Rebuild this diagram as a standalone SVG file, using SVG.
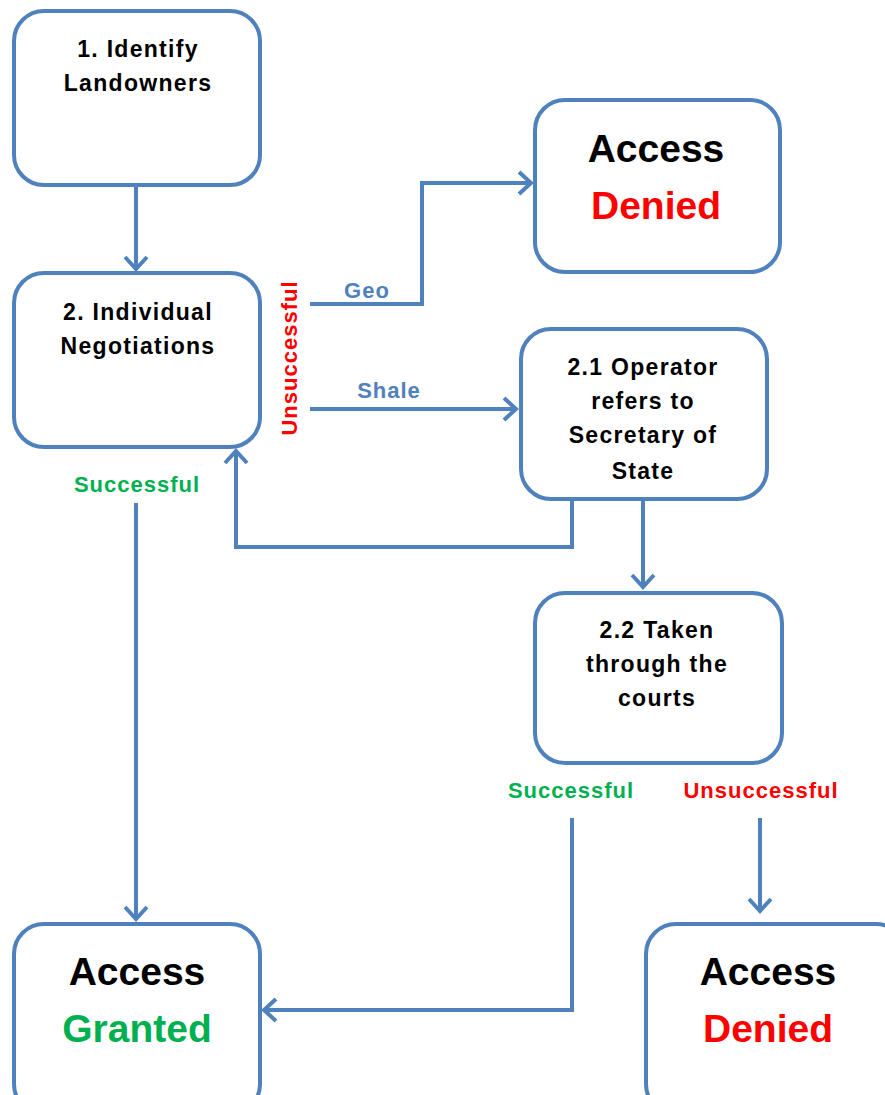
<svg xmlns="http://www.w3.org/2000/svg" width="885" height="1095" viewBox="0 0 885 1095">
<style>
.box{fill:#fff;stroke:#4F81BD;stroke-width:4}
.t{font-family:"Liberation Sans",Arial,sans-serif;font-weight:bold;font-size:23px;letter-spacing:1.3px;fill:#000;text-anchor:middle}
.big{font-family:"Liberation Sans",Arial,sans-serif;font-weight:bold;font-size:39px;text-anchor:middle}
.lbl{font-family:"Liberation Sans",Arial,sans-serif;font-weight:bold;font-size:22px;letter-spacing:1px;text-anchor:middle}
.c{fill:none;stroke:#4F81BD;stroke-width:4}
</style>
<defs>
<marker id="ah" markerUnits="userSpaceOnUse" markerWidth="30" markerHeight="30" viewBox="-15 -15 30 30" refX="0" refY="0" orient="auto">
<path d="M -12 -11 L 0 0 L -12 11" fill="none" stroke="#4F81BD" stroke-width="4"/>
</marker>
</defs>
<g id="connectors">
<path class="c" d="M136 185 V269" marker-end="url(#ah)"/>
<path class="c" d="M310 304 H422 V183 H531" marker-end="url(#ah)"/>
<path class="c" d="M310 409 H516" marker-end="url(#ah)"/>
<path class="c" d="M572 497 V547 H236 V451" marker-end="url(#ah)"/>
<path class="c" d="M643 500 V587" marker-end="url(#ah)"/>
<path class="c" d="M136 503 V919" marker-end="url(#ah)"/>
<path class="c" d="M572 818 V1010 H264" marker-end="url(#ah)"/>
<path class="c" d="M760 818 V911" marker-end="url(#ah)"/>
</g>
<g id="n1"><rect class="box" x="14" y="11" width="246" height="174" rx="30"/>
<text class="t" x="138" y="57">1. Identify</text><text class="t" x="138" y="91">Landowners</text></g>
<g id="n2"><rect class="box" x="14" y="273" width="246" height="174" rx="30"/>
<text class="t" x="138" y="320">2. Individual</text><text class="t" x="138" y="354">Negotiations</text></g>
<g id="denied1"><rect class="box" x="535" y="100" width="245" height="172" rx="30"/>
<text class="big" x="656" y="162">Access</text><text class="big" x="656" y="219" fill="#FF0000">Denied</text></g>
<g id="n21"><rect class="box" x="521" y="329" width="246" height="170" rx="30"/>
<text class="t" x="643" y="375">2.1 Operator</text><text class="t" x="643" y="409">refers to</text><text class="t" x="643" y="443">Secretary of</text><text class="t" x="643" y="479">State</text></g>
<g id="n22"><rect class="box" x="535" y="593" width="247" height="170" rx="30"/>
<text class="t" x="657" y="638">2.2 Taken</text><text class="t" x="657" y="672">through the</text><text class="t" x="657" y="706">courts</text></g>
<g id="granted"><rect class="box" x="14" y="924" width="246" height="190" rx="30"/>
<text class="big" x="137" y="985">Access</text><text class="big" x="137" y="1042" fill="#00B050">Granted</text></g>
<g id="denied2"><rect class="box" x="646" y="924" width="260" height="190" rx="30"/>
<text class="big" x="768" y="985">Access</text><text class="big" x="768" y="1042" fill="#FF0000">Denied</text></g>
<g id="labels">
<text class="lbl" fill="#FF0000" transform="translate(297 358) rotate(-90)">Unsuccessful</text>
<text class="lbl" fill="#4F81BD" x="367" y="298">Geo</text>
<text class="lbl" fill="#4F81BD" x="389" y="398">Shale</text>
<text class="lbl" fill="#00B050" x="137" y="492">Successful</text>
<text class="lbl" fill="#00B050" x="571" y="798">Successful</text>
<text class="lbl" fill="#FF0000" x="761" y="798">Unsuccessful</text>
</g>
</svg>
